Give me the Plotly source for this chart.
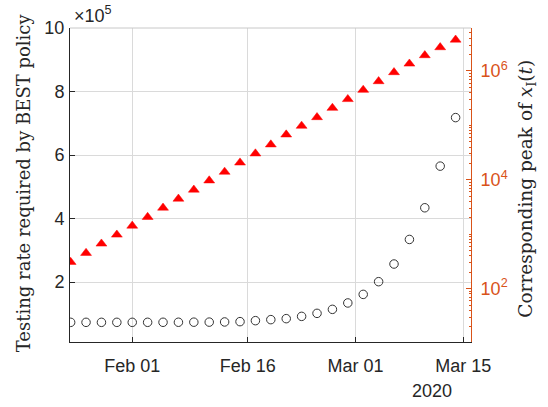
import plotly.graph_objects as go

dates = ["2020-01-24", "2020-01-26", "2020-01-28", "2020-01-30", "2020-02-01",
         "2020-02-03", "2020-02-05", "2020-02-07", "2020-02-09", "2020-02-11",
         "2020-02-13", "2020-02-15", "2020-02-17", "2020-02-19", "2020-02-21",
         "2020-02-23", "2020-02-25", "2020-02-27", "2020-02-29", "2020-03-02",
         "2020-03-04", "2020-03-06", "2020-03-08", "2020-03-10", "2020-03-12",
         "2020-03-14"]

testing_rate = [73300, 73300, 73300, 73300, 73300, 73400, 73500, 73600, 73800,
                74000, 74500, 75500, 78600, 81800, 84900, 92100, 101600, 114200,
                134300, 161300, 201300, 256900, 334300, 434000, 565100, 717900]

peak_xI = [309, 452, 670, 980, 1430, 2070, 3060, 4480, 6560, 9700, 14000, 20700,
           30400, 44500, 67800, 98000, 141000, 209000, 303000, 448000, 646000,
           946000, 1360000, 1940000, 2720000, 3750000]

x_tick_vals = ["2020-02-01", "2020-02-16", "2020-03-01", "2020-03-15"]
x_tick_text = ["Feb 01", "Feb 16", "Mar 01", "Mar 15"]
y_tick_vals = [200000, 400000, 600000, 800000, 1000000]
y_tick_text = ["2", "4", "6", "8", "10"]
y2_tick_vals = [1e2, 1e4, 1e6]
y2_tick_text = ["10<sup>2</sup>", "10<sup>4</sup>", "10<sup>6</sup>"]
y2_minor_vals = [k * 10 ** n for n in range(1, 7) for k in range(2, 10)] + [1e3, 1e5]

DARK = "#262626"
ORANGE = "#D95319"
GRID = "#dadada"
SANS = "Liberation Sans, Arial, sans-serif"
SERIF = "DejaVu Serif, serif"

fig = go.Figure()
fig.add_trace(go.Scatter(
    x=dates, y=testing_rate, mode="markers", yaxis="y",
    marker=dict(symbol="circle-open", size=8.5, color="#333333",
                line=dict(width=1, color="#333333")),
    showlegend=False))
fig.add_trace(go.Scatter(
    x=dates, y=peak_xI, mode="markers", yaxis="y2",
    marker=dict(symbol="triangle-up", size=9.5, color="#ff0000",
                line=dict(width=0.5, color="#ff0000")),
    showlegend=False))

fig.update_layout(
    width=548, height=407,
    margin=dict(l=69.5, r=77, t=28, b=64.7, pad=0, autoexpand=False),
    paper_bgcolor="white", plot_bgcolor="white",
    font=dict(family=SANS, size=18, color=DARK),
    xaxis=dict(
        type="date", range=["2020-01-23 22:00", "2020-03-16"],
        tickmode="array", tickvals=x_tick_vals, ticktext=x_tick_text,
        showgrid=True, gridcolor=GRID, gridwidth=1,
        ticks="inside", ticklen=5, tickcolor=DARK, tickwidth=1,
        showline=True, linecolor=DARK, linewidth=1, automargin=False,
        tickfont=dict(family=SANS, size=18, color=DARK),
        ticklabelstandoff=7, zeroline=False),
    yaxis=dict(
        range=[11400, 1000000],
        tickmode="array", tickvals=y_tick_vals, ticktext=y_tick_text,
        showgrid=True, gridcolor=GRID, gridwidth=1,
        ticks="inside", ticklen=5, tickcolor=DARK, tickwidth=1,
        showline=True, linecolor=DARK, linewidth=1, automargin=False,
        tickfont=dict(family=SANS, size=18, color=DARK),
        ticklabelstandoff=1, zeroline=False),
    yaxis2=dict(
        type="log", overlaying="y", side="right", range=[1.02, 6.79],
        tickmode="array", tickvals=y2_tick_vals, ticktext=y2_tick_text,
        showgrid=False, automargin=False,
        ticks="inside", ticklen=5, tickcolor=ORANGE, tickwidth=1,
        minor=dict(tickmode="array", tickvals=y2_minor_vals, ticks="inside",
                   ticklen=2.5, tickcolor=ORANGE, tickwidth=1, showgrid=False),
        showline=True, linecolor=ORANGE, linewidth=1,
        tickfont=dict(family=SANS, size=18, color=ORANGE),
        ticklabelstandoff=5, zeroline=False),
    shapes=[dict(type="line", xref="paper", yref="paper", x0=0, x1=1, y0=1, y1=1,
                 line=dict(color="#c8c8c8", width=1))],
    annotations=[
        dict(text="Testing rate required by BEST policy", xref="paper", yref="paper",
             x=-0.116, y=0.507, xanchor="center", yanchor="middle", textangle=-90,
             showarrow=False, font=dict(family=SERIF, size=18, color=DARK)),
        dict(text="Corresponding peak of <i>x</i><sub>I</sub>(<i>t</i>)",
             xref="paper", yref="paper",
             x=1.1395, y=0.488, xanchor="center", yanchor="middle", textangle=-90,
             showarrow=False, font=dict(family=SERIF, size=18.5, color=DARK)),
        dict(text="×10<sup>5</sup>", xref="paper", yref="paper",
             x=0.004, y=1.0, xanchor="left", yanchor="bottom",
             showarrow=False, font=dict(family=SANS, size=18, color=DARK)),
        dict(text="2020", xref="paper", yref="paper",
             x=0.9035, y=-0.155, xanchor="center", yanchor="middle",
             showarrow=False, font=dict(family=SANS, size=18, color=DARK)),
    ],
)

fig.write_html("out.html",
               config={"displayModeBar": False},
               post_script="document.body.style.margin='0';document.body.style.overflow='hidden';")
